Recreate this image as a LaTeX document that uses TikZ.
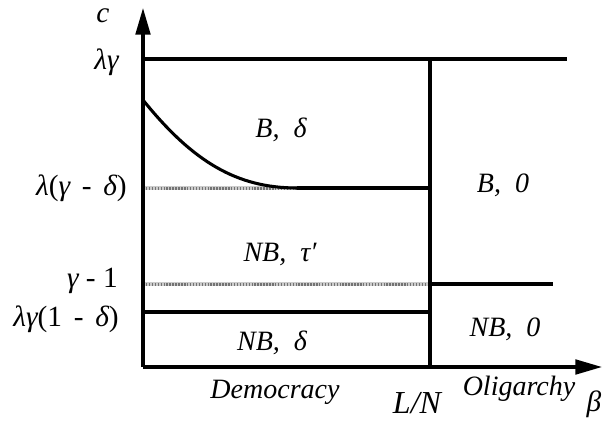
\documentclass[tikz,border=0pt]{standalone}
\usepackage{fontspec}
\setmainfont{Liberation Serif}
\usetikzlibrary{arrows.meta}
\newcommand{\hy}{\hspace{0.4em}-\hspace{0.4em}}
\newcommand{\hyy}{\hspace{0.25em}-\hspace{0.25em}}
\newcommand{\sep}{,\hspace{0.5em}}
\begin{document}
\begin{tikzpicture}[x=0.75pt,y=-0.75pt,
  axisline/.style={line width=2.3pt,-{Triangle[length=20pt,width=11pt]}},
  bold/.style={line width=3pt},
  grayline/.style={line width=2.4pt,draw=gray!40},
  graydots/.style={line width=2.4pt,draw=gray!90!black,dash pattern=on 1.1pt off 1.1pt},
  lbl/.style={font=\fontsize{21}{23}\selectfont\itshape,inner sep=0pt},
  albl/.style={font=\fontsize{22}{24}\selectfont\itshape,inner sep=0pt},
  ylbl/.style={font=\fontsize{22}{24}\selectfont,inner sep=0pt,anchor=east},
  reg/.style={font=\fontsize{21}{23}\selectfont\itshape,inner sep=0pt}
]
\useasboundingbox (0,0) rectangle (605,423);
% coordinates
\coordinate (O) at (143,367);
\coordinate (ytip) at (143,8);
\coordinate (xtip) at (602,367);
\coordinate (LNtop) at (430,59);
\coordinate (LNbot) at (430,367);
\coordinate (lgL) at (143,59);
\coordinate (lgR) at (567,59);
\coordinate (cs) at (143,100);
\coordinate (ce) at (297,188);
\coordinate (ldL) at (143,188);
\coordinate (ldR) at (430,188);
\coordinate (g1L) at (143,284);
\coordinate (g1M) at (430,284);
\coordinate (g1R) at (553,284);
\coordinate (lg1L) at (143,312);
\coordinate (lg1R) at (430,312);
% gray dotted lines
\draw[grayline] (ldL) -- (ce);
\draw[graydots] ([yshift=-0.6pt]ldL) -- ([yshift=-0.6pt]ce);
\draw[grayline] (g1L) -- (g1M);
\draw[graydots] ([yshift=-0.6pt]g1L) -- ([yshift=-0.6pt]g1M);
% bold lines
\draw[bold] (lgL) -- (lgR);
\draw[bold] (LNtop) -- (LNbot);
\draw[bold] (ce) -- (ldR);
\draw[bold] (g1M) -- (g1R);
\draw[bold] (lg1L) -- (lg1R);
\draw[line width=2.3pt] (cs) .. controls (193,162) and (237,188) .. (ce);
% axes
\draw[axisline] (O) -- (ytip);
\draw[axisline] (O) -- (xtip);
% axis labels
\node[albl] (c) at (103,16) {c};
\node[albl] (beta) at (594,404) {β};
\node[ylbl] (ylg) at (119,62) {\itshape λγ};
\node[ylbl] (yld) at (127,188) {\itshape λ\upshape(\itshape γ\upshape\hy\itshape δ\upshape)};
\node[ylbl] (yg1) at (118,281) {\itshape γ\upshape\hyy 1};
\node[ylbl] (ylg1) at (119,319) {\itshape λγ\upshape(1\hy\itshape δ\upshape)};
\node[font=\fontsize{24}{26}\selectfont\itshape,inner sep=0pt] (LN) at (417,403) {L/N};
% region labels
\node[lbl] (Bd) at (281,130) {B\sep δ};
\node[lbl] (B0) at (503,185) {B\sep 0};
\node[lbl] (NBt) at (280,254) {NB\sep τ′};
\node[lbl] (NBd) at (272,343) {NB\sep δ};
\node[lbl] (NB0) at (505,329) {NB\sep 0};
\node[reg] (dem) at (275,392) {Democracy};
\node[reg] (oli) at (519,389) {Oligarchy};
\end{tikzpicture}
\end{document}
